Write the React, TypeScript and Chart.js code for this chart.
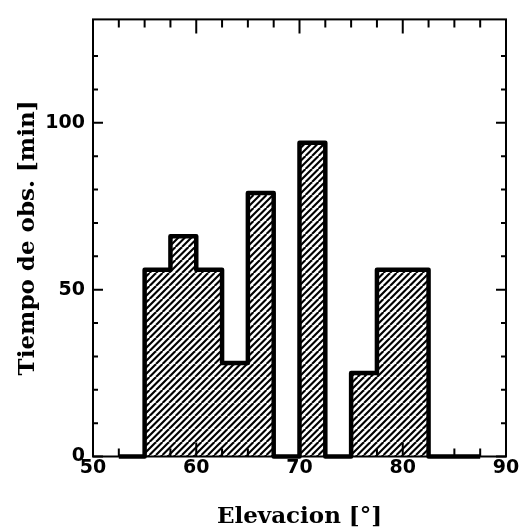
import React, { useEffect, useRef } from "react";
import { Chart, registerables } from "chart.js";

Chart.register(...registerables);

// Histogram of observing time per elevation bin (2.5° wide bins).
const binEdges = [52.5, 55, 57.5, 60, 62.5, 65, 67.5, 70, 72.5, 75, 77.5, 80, 82.5, 85, 87.5];
const obsMinutes = [0, 56, 66, 56, 28, 79, 0, 94, 0, 25, 56, 56, 0, 0];

const xMin = 50;
const xMax = 90;
const yMin = 0;
const yMax = 131;
const xMajorStep = 10;
const xMinorStep = 2.5;
const yMajorStep = 50;
const yMinorStep = 10;

const xTitle = "Elevacion [°]";
const yTitle = "Tiempo de obs. [min]";

function makeHatch(ctx: CanvasRenderingContext2D): CanvasPattern | string {
  const size = 13;
  const tile = document.createElement("canvas");
  tile.width = size;
  tile.height = size;
  const t = tile.getContext("2d");
  if (!t) return "#fff";
  t.fillStyle = "#fff";
  t.fillRect(0, 0, size, size);
  t.strokeStyle = "#000";
  t.lineWidth = 2.1;
  const gap = size / 2;
  for (let c = -size; c <= size * 3; c += gap) {
    t.beginPath();
    t.moveTo(c, size);
    t.lineTo(c + size, 0);
    t.stroke();
  }
  return ctx.createPattern(tile, "repeat") || "#fff";
}

const frameAndTicks = {
  id: "frameAndTicks",
  afterDraw(chart: any) {
    const { ctx, chartArea, scales } = chart;
    const { left, right, top, bottom } = chartArea;
    const x = scales.x;
    const y = scales.y;
    ctx.save();
    ctx.strokeStyle = "#000";
    ctx.lineWidth = 2;
    ctx.lineCap = "butt";
    ctx.strokeRect(left, top, right - left, bottom - top);
    ctx.beginPath();
    for (const t of x.ticks) {
      const v = t.value;
      if (Math.abs(v / xMinorStep - Math.round(v / xMinorStep)) > 1e-6) continue;
      const px = x.getPixelForValue(v);
      const major = Math.abs(v % xMajorStep) < 1e-6;
      const len = major ? 14 : 8;
      ctx.moveTo(px, bottom);
      ctx.lineTo(px, bottom - len);
      ctx.moveTo(px, top);
      ctx.lineTo(px, top + len);
    }
    for (const t of y.ticks) {
      const v = t.value;
      if (v % yMinorStep !== 0) continue;
      const py = y.getPixelForValue(v);
      const major = v % yMajorStep === 0;
      const len = major ? 10 : 5;
      ctx.moveTo(left, py);
      ctx.lineTo(left + len, py);
      ctx.moveTo(right, py);
      ctx.lineTo(right - len, py);
    }
    ctx.stroke();
    ctx.restore();
  },
};

export default function App() {
  const canvasRef = useRef<HTMLCanvasElement | null>(null);

  useEffect(() => {
    const canvas = canvasRef.current;
    if (!canvas) return;
    const ctx = canvas.getContext("2d");
    if (!ctx) return;
    const hatch = makeHatch(ctx);

    const bars = obsMinutes.map((v, i) => ({
      x: (binEdges[i] + binEdges[i + 1]) / 2,
      y: v,
    }));
    const outline = binEdges.map((e, i) => ({
      x: e,
      y: i < obsMinutes.length ? obsMinutes[i] : 0,
    }));

    const chart = new Chart(ctx, {
      type: "bar",
      data: {
        datasets: [
          {
            type: "bar",
            data: bars,
            backgroundColor: hatch as any,
            borderWidth: 0,
            barPercentage: 1,
            categoryPercentage: 1,
            order: 2,
          } as any,
          {
            type: "line",
            data: outline,
            stepped: "before",
            borderColor: "#000",
            borderWidth: 4.5,
            borderJoinStyle: "round",
            borderCapStyle: "butt",
            pointRadius: 0,
            fill: false,
            clip: false,
            order: 1,
          } as any,
        ],
      },
      options: {
        responsive: false,
        animation: false,
        events: [],
        layout: { padding: { left: 0, top: 14.5, right: 15, bottom: 0 } },
        plugins: {
          legend: { display: false },
          tooltip: { enabled: false },
        },
        scales: {
          x: {
            type: "linear",
            min: xMin,
            max: xMax,
            offset: false,
            grid: { display: false, drawTicks: false },
            border: { display: false },
            ticks: {
              stepSize: xMinorStep,
              autoSkip: false,
              maxRotation: 0,
              padding: 0,
              color: "#000",
              font: { family: "DejaVu Sans", weight: "bold", size: 19 },
              callback: (v: any) => (Math.abs(Number(v) % xMajorStep) < 1e-6 ? String(v) : ""),
            },
            title: {
              display: true,
              text: xTitle,
              color: "#000",
              font: { family: "DejaVu Serif", weight: "bold", size: 23 },
              padding: { top: 0, bottom: 0 },
            },
            afterFit: (scale: any) => {
              scale.height = 74.5;
            },
          },
          y: {
            min: yMin,
            max: yMax,
            grid: { display: false, drawTicks: false },
            border: { display: false },
            ticks: {
              stepSize: yMinorStep,
              autoSkip: false,
              padding: 8,
              color: "#000",
              font: { family: "DejaVu Sans", weight: "bold", size: 19 },
              callback: (v: any) => (Number(v) % yMajorStep === 0 ? String(v) : ""),
            },
            title: {
              display: true,
              text: yTitle,
              color: "#000",
              font: { family: "DejaVu Serif", weight: "bold", size: 23 },
              padding: { top: 14, bottom: 0 },
            },
            afterFit: (scale: any) => {
              scale.width = 93;
            },
          },
        },
      } as any,
      plugins: [frameAndTicks],
    });

    return () => chart.destroy();
  }, []);

  return (
    <div
      style={{
        position: "absolute",
        left: 0,
        top: 0,
        width: 521,
        height: 531,
        background: "#fff",
      }}
    >
      <canvas ref={canvasRef} width={521} height={531} style={{ display: "block" }} />
    </div>
  );
}
